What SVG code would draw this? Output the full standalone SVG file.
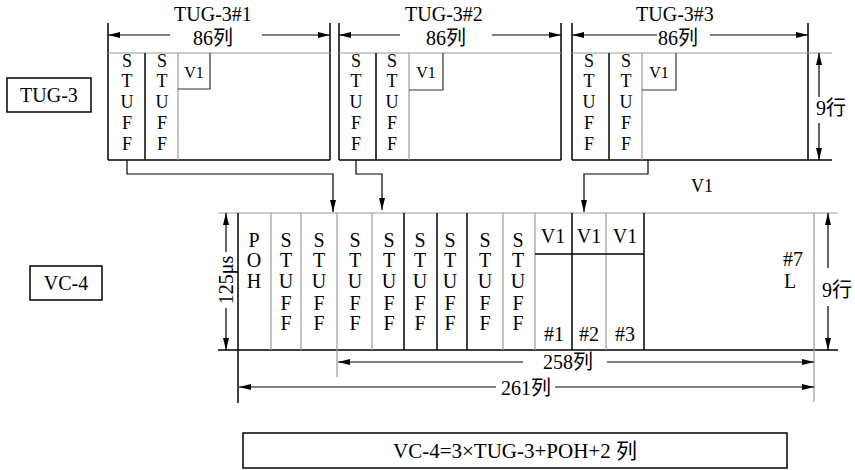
<svg xmlns="http://www.w3.org/2000/svg" width="855" height="470" viewBox="0 0 855 470">
<defs>
<marker id="ah" markerUnits="userSpaceOnUse" markerWidth="12" markerHeight="6" refX="12" refY="3" orient="auto-start-reverse"><path d="M0,0 L12,3 L0,6 z" fill="#000"/></marker>
<style>
.k{stroke:#000;stroke-width:1.5;fill:none}
.g{stroke:#9a9a9a;stroke-width:1.2;fill:none}
.d{stroke:#333;stroke-width:1.2;fill:none}
.a{stroke:#000;stroke-width:1.2;fill:none}
.ae{marker-end:url(#ah)}
.as{marker-start:url(#ah)}
text{font-family:"Liberation Serif","Noto Sans CJK SC",serif;fill:#000;text-anchor:middle}
.t20{font-size:20px}
.t18{font-size:18px}
.t16{font-size:16px}
</style>
</defs>
<rect width="855" height="470" fill="#fff"/>

<g id="label-tug3">
<rect x="7" y="78" width="84" height="34" class="k" stroke-width="1.2"/>
<text x="49" y="102" class="t20">TUG-3</text>
</g>

<g id="label-vc4">
<rect x="30" y="266" width="72" height="34" class="k" stroke-width="1.2"/>
<text x="66" y="290" class="t20">VC-4</text>
</g>

<g id="tug3-1">
<text x="213" y="21" class="t20">TUG-3#1</text>
<line x1="108" y1="23" x2="108" y2="160" class="k"/>
<line x1="330" y1="23" x2="330" y2="160" class="k"/>
<line x1="108" y1="160" x2="330" y2="160" class="k"/>
<line x1="108" y1="53" x2="330" y2="53" class="g"/>
<line x1="145" y1="53" x2="145" y2="160" class="k"/>
<line x1="178" y1="53" x2="178" y2="160" class="g"/>
<polyline points="178,89 210,89 210,53" class="d"/>
<line x1="170" y1="35" x2="108" y2="35" class="a ae"/>
<line x1="262" y1="35" x2="330" y2="35" class="a ae"/>
<text x="213" y="45" class="t20">86列</text>
<g class="t18">
<text x="127" y="67">S</text><text x="127" y="87">T</text><text x="127" y="108">U</text><text x="127" y="129">F</text><text x="127" y="150">F</text>
<text x="162" y="67">S</text><text x="162" y="87">T</text><text x="162" y="108">U</text><text x="162" y="129">F</text><text x="162" y="150">F</text>
</g>
<text x="194" y="78" class="t16">V1</text>
</g>

<g id="tug3-2">
<text x="444" y="21" class="t20">TUG-3#2</text>
<line x1="339" y1="23" x2="339" y2="160" class="k"/>
<line x1="561" y1="23" x2="561" y2="160" class="k"/>
<line x1="339" y1="160" x2="561" y2="160" class="k"/>
<line x1="339" y1="53" x2="561" y2="53" class="g"/>
<line x1="376" y1="53" x2="376" y2="160" class="k"/>
<line x1="409" y1="53" x2="409" y2="160" class="g"/>
<polyline points="409,90 443,90 443,53" class="d"/>
<line x1="400" y1="35" x2="339" y2="35" class="a ae"/>
<line x1="492" y1="35" x2="561" y2="35" class="a ae"/>
<text x="446" y="45" class="t20">86列</text>
<g class="t18">
<text x="356" y="67">S</text><text x="356" y="87">T</text><text x="356" y="108">U</text><text x="356" y="129">F</text><text x="356" y="150">F</text>
<text x="392" y="67">S</text><text x="392" y="87">T</text><text x="392" y="108">U</text><text x="392" y="129">F</text><text x="392" y="150">F</text>
</g>
<text x="426" y="78" class="t16">V1</text>
</g>

<g id="tug3-3">
<text x="675" y="21" class="t20">TUG-3#3</text>
<line x1="572" y1="23" x2="572" y2="160" class="k"/>
<line x1="808" y1="23" x2="808" y2="160" class="k"/>
<line x1="572" y1="160" x2="832" y2="160" class="k"/>
<line x1="572" y1="53" x2="832" y2="53" class="g"/>
<line x1="609" y1="53" x2="609" y2="160" class="k"/>
<line x1="642" y1="53" x2="642" y2="160" class="g"/>
<polyline points="642,90 676,90 676,53" class="d"/>
<line x1="657" y1="35" x2="572" y2="35" class="a ae"/>
<line x1="710" y1="35" x2="808" y2="35" class="a ae"/>
<text x="678" y="45" class="t20">86列</text>
<g class="t18">
<text x="589" y="67">S</text><text x="589" y="87">T</text><text x="589" y="108">U</text><text x="589" y="129">F</text><text x="589" y="150">F</text>
<text x="626" y="67">S</text><text x="626" y="87">T</text><text x="626" y="108">U</text><text x="626" y="129">F</text><text x="626" y="150">F</text>
</g>
<text x="659" y="78" class="t16">V1</text>
<line x1="819" y1="97" x2="819" y2="53" class="a ae"/>
<line x1="819" y1="123" x2="819" y2="160" class="a ae"/>
<text x="831" y="115" class="t20">9行</text>
</g>

<g id="connectors">
<path d="M127,160 V174 H333 V212" class="a ae"/>
<path d="M356,160 V174 H382 V210" class="a ae" stroke="#555"/>
<path d="M648,160 V174 H584 V212" class="a ae"/>
<text x="702" y="192" class="t18">V1</text>
</g>

<g id="vc4">
<line x1="218" y1="213" x2="838" y2="213" class="g"/>
<line x1="218" y1="350" x2="838" y2="350" class="k"/>
<line x1="238" y1="213" x2="238" y2="403" class="k"/>
<line x1="271" y1="213" x2="271" y2="350" class="g"/>
<line x1="301" y1="213" x2="301" y2="350" class="g"/>
<line x1="337" y1="213" x2="337" y2="377" class="g"/>
<line x1="372" y1="213" x2="372" y2="350" class="g"/>
<line x1="404" y1="213" x2="404" y2="350" class="k"/>
<line x1="437" y1="213" x2="437" y2="350" class="k"/>
<line x1="467" y1="213" x2="467" y2="350" class="k"/>
<line x1="503" y1="213" x2="503" y2="350" class="g"/>
<line x1="535" y1="213" x2="535" y2="350" class="g"/>
<line x1="572" y1="213" x2="572" y2="350" class="k"/>
<line x1="606" y1="213" x2="606" y2="350" class="g"/>
<line x1="644" y1="213" x2="644" y2="350" class="k"/>
<line x1="814" y1="213" x2="814" y2="402" class="g"/>
<line x1="535" y1="254" x2="644" y2="254" class="k"/>
<line x1="226" y1="252" x2="226" y2="213" class="a ae"/>
<line x1="226" y1="308" x2="226" y2="350" class="a ae"/>
<text x="0" y="0" class="t20" transform="translate(233,280) rotate(-90)">125μs</text>
<line x1="828" y1="268" x2="828" y2="213" class="a ae"/>
<line x1="828" y1="306" x2="828" y2="350" class="a ae"/>
<text x="837" y="297" class="t20">9行</text>
<g class="t20">
<text x="254" y="247">P</text><text x="254" y="267">O</text><text x="254" y="288">H</text>
<text x="286" y="247">S</text><text x="286" y="267">T</text><text x="286" y="288">U</text><text x="286" y="310">F</text><text x="286" y="330">F</text>
<text x="319" y="247">S</text><text x="319" y="267">T</text><text x="319" y="288">U</text><text x="319" y="310">F</text><text x="319" y="330">F</text>
<text x="355" y="247">S</text><text x="355" y="267">T</text><text x="355" y="288">U</text><text x="355" y="310">F</text><text x="355" y="330">F</text>
<text x="389" y="247">S</text><text x="389" y="267">T</text><text x="389" y="288">U</text><text x="389" y="310">F</text><text x="389" y="330">F</text>
<text x="420" y="247">S</text><text x="420" y="267">T</text><text x="420" y="288">U</text><text x="420" y="310">F</text><text x="420" y="330">F</text>
<text x="450" y="247">S</text><text x="450" y="267">T</text><text x="450" y="288">U</text><text x="450" y="310">F</text><text x="450" y="330">F</text>
<text x="485" y="247">S</text><text x="485" y="267">T</text><text x="485" y="288">U</text><text x="485" y="310">F</text><text x="485" y="330">F</text>
<text x="518" y="247">S</text><text x="518" y="267">T</text><text x="518" y="288">U</text><text x="518" y="310">F</text><text x="518" y="330">F</text>
<text x="553" y="243">V1</text><text x="589" y="243">V1</text><text x="625" y="243">V1</text>
<text x="554" y="341">#1</text><text x="589" y="341">#2</text><text x="625" y="341">#3</text>
<text x="793" y="266">#7</text><text x="790" y="288">L</text>
</g>
<line x1="523" y1="362" x2="338" y2="362" class="a ae"/>
<line x1="607" y1="362" x2="814" y2="362" class="a ae"/>
<text x="568" y="369" class="t20">258列</text>
<line x1="496" y1="387" x2="239" y2="387" class="a ae"/>
<line x1="555" y1="387" x2="814" y2="387" class="a ae"/>
<text x="526" y="395" class="t20">261列</text>
</g>

<g id="formula">
<rect x="243" y="433" width="544" height="35" class="k" stroke-width="1.2"/>
<text x="515" y="458" style="font-size:21px">VC-4=3×TUG-3+POH+2 列</text>
</g>
</svg>
